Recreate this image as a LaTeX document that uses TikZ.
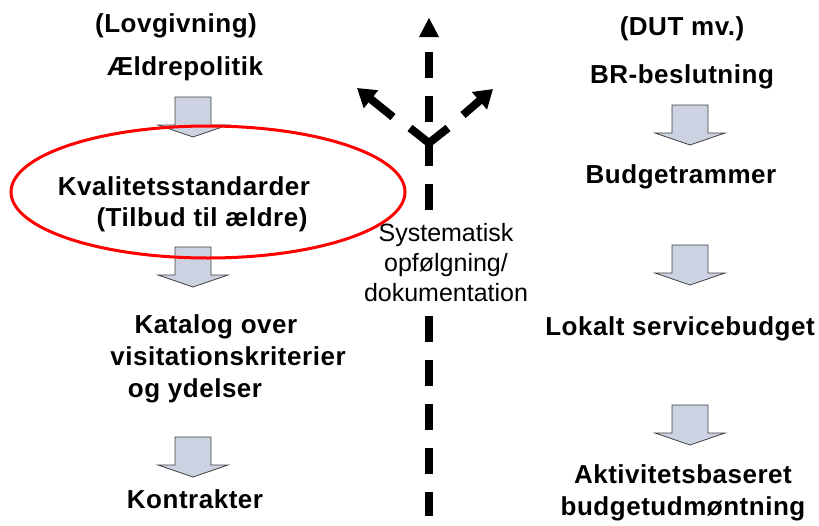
\documentclass[tikz,border=0pt]{standalone}
\usepackage{fontspec}
\setmainfont{Liberation Sans}
\newfontfamily\spacedfont[LetterSpace=2.0]{Liberation Sans}
\usetikzlibrary{arrows.meta}
\definecolor{arrowfill}{RGB}{204,210,226}
\tikzset{
  heading/.style={font=\spacedfont\bfseries\fontsize{26}{30}\selectfont, inner sep=0pt, anchor=base},
  downarrow/.pic={\draw[fill=arrowfill, draw=black!75, line width=0.8pt]
    (-18,0) -- (18,0) -- (18,28) -- (35,28) -- (0,40) -- (-35,28) -- (-18,28) -- cycle;},
  axis/.style={line width=8pt},
}
\begin{document}
\begin{tikzpicture}[x=1pt, y=-1pt]
\useasboundingbox (0,0) rectangle (819,525);
% left column
\node[heading] (lovgivning) at (176,32) {(Lovgivning)};
\node[heading] (aeldre) at (185,75) {Ældrepolitik};
\node[heading] (kval) at (184,195) {Kvalitetsstandarder};
\node[heading] (tilbud) at (202,226) {(Tilbud til ældre)};
\node[heading] (katalog) at (216,333) {Katalog over};
\node[heading] (visit) at (228,365) {visitationskriterier};
\node[heading] (ydelser) at (195,397) {og ydelser};
\node[heading] (kontrakter) at (195,508) {Kontrakter};
\pic at (193,97) {downarrow};
\pic at (193,247) {downarrow};
\pic at (193,437) {downarrow};
% right column
\node[heading] (dut) at (682,35) {(DUT mv.)};
\node[heading] (br) at (682,83) {BR-beslutning};
\node[heading] (rammer) at (681,183) {Budgetrammer};
\node[heading] (lokalt) at (680,335) {Lokalt servicebudget};
\node[heading] (aktiv) at (683,483) {Aktivitetsbaseret};
\node[heading] (udm) at (683,515) {budgetudmøntning};
\pic at (690,105) {downarrow};
\pic at (690,245) {downarrow};
\pic at (690,405) {downarrow};
% middle axis
\coordinate (axtop) at (429,52);
\coordinate (axbot) at (429,516);
\coordinate (fork) at (429,143);
\draw[axis, dash pattern=on 26pt off 18pt] (axtop) -- (axbot);
\fill (419,37) -- (439,37) -- (429,18) -- cycle;
\draw[axis] (fork) -- (410,128);
\draw[axis] (fork) -- (448,128);
\draw[axis, -{Triangle[width=22pt,length=18pt]}] (393,117) -- (357,88);
\draw[axis, -{Triangle[width=22pt,length=18pt]}] (463,115) -- (493,89);
\node[fill=white, align=center, inner sep=2pt, font=\fontsize{25}{30}\selectfont] (sys) at (446,263) {Systematisk\\opfølgning/\\dokumentation};
% ring
\draw[red, line width=3pt] (208,192) ellipse [x radius=197pt, y radius=66pt];
\end{tikzpicture}
\end{document}
